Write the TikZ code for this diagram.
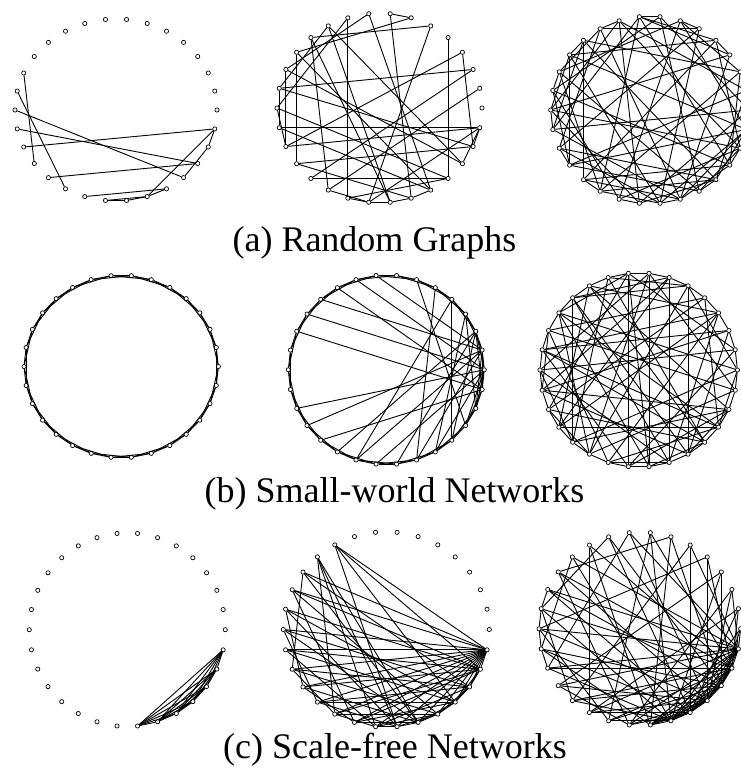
\documentclass[tikz,border=0pt]{standalone}
\usepackage{fontspec}
\setmainfont{Liberation Serif}
\usetikzlibrary{positioning}

\tikzset{
  vtx/.style={circle,draw,fill=white,inner sep=0pt,minimum size=4.2pt,line width=0.7pt},
  link/.style={line width=0.9pt},
  lbl/.style={font=\fontsize{36}{40}\selectfont,inner sep=0pt}
}

% 30 nodes on an ellipse: #1 prefix, #2,#3 centre, #4,#5 radii (pixels)
\newcommand{\ringnodes}[5]{%
  \foreach \k in {0,...,29}
    \node[vtx] (#1-\k) at ({#2+#4*cos(12*\k)},{#3-#5*sin(12*\k)}) {};
}

\begin{document}
\begin{tikzpicture}[x=1pt,y=-1pt]
  \useasboundingbox (0,0) rectangle (741,777);
  \clip (0,0) rectangle (741,777);

  % (a) random graphs
  \ringnodes{rg1}{116}{110}{101}{91}
  \foreach \a/\b in {13/18,14/20,15/26,16/27,17/29,19/27,21/25,22/23,22/24,
    23/24,24/25,24/29,28/29,26/28}
    \draw[link] (rg1-\a) -- (rg1-\b);

  \ringnodes{rg2}{379.5}{108}{102.5}{94.8}
  \foreach \a/\b in {6/7,3/28,4/26,9/21,16/29,17/29,5/11,12/18,19/26,10/27,
    2/19,1/20,22/29,8/13,8/25,7/24,11/23,12/25,13/27,14/28,15/26,13/17,14/16,
    15/17,20/22,21/22,22/23,23/24,24/25,18/24,10/23,9/15,5/22,11/20,28/29,
    27/29,16/25,18/28,2/14,21/26,6/12,10/14,3/17}
    \draw[link] (rg2-\a) -- (rg2-\b);

  \ringnodes{rg3}{649.7}{110}{99}{93.8}
  \foreach \a/\b in {0/7,0/16,0/22,1/9,1/18,1/26,2/11,2/20,2/27,3/8,3/15,3/24,
    4/12,4/19,4/28,5/10,5/17,5/23,6/13,6/21,6/29,7/14,7/25,8/16,8/20,8/27,
    9/15,9/22,9/28,10/17,10/24,11/16,11/19,11/26,12/18,12/23,12/29,13/20,
    13/25,14/21,14/27,15/22,15/28,16/24,17/23,17/26,18/25,18/29,19/24,19/27,
    20/26,21/28,22/26,23/29,24/27,25/28,26/29,0/1,1/2,3/4,5/6,7/8,9/10,11/12,
    13/14,15/16,17/18,19/20,21/22,23/24,25/26,27/28,28/29,0/29,10/13,14/18,
    20/23,24/29,4/8,2/6,12/15}
    \draw[link] (rg3-\a) -- (rg3-\b);

  \node[lbl,anchor=base] (capa) at (374.5,251.5) {(a) Random Graphs};

  % (b) small-world networks
  \ringnodes{sw1}{121.2}{366.5}{97.2}{91.3}
  \foreach \a [evaluate=\a as \b using {int(mod(\a+1,30))},
               evaluate=\a as \c using {int(mod(\a+2,30))}] in {0,...,29} {
    \draw[link] (sw1-\a) -- (sw1-\b);
    \draw[link] (sw1-\a) -- (sw1-\c);
  }

  \ringnodes{sw2}{386.3}{369.8}{98}{94.8}
  \foreach \a [evaluate=\a as \b using {int(mod(\a+1,30))},
               evaluate=\a as \c using {int(mod(\a+2,30))}] in {0,...,29} {
    \draw[link] (sw2-\a) -- (sw2-\b);
    \draw[link] (sw2-\a) -- (sw2-\c);
  }
  \foreach \a/\b in {8/1,9/0,10/29,11/1,12/0,13/29,17/0,18/1,19/29,20/2,21/1,
    22/0,23/2,24/1,25/0,26/2,5/24,4/26,4/21,3/28,3/25,2/29,1/28,6/27,0/27}
    \draw[link] (sw2-\a) -- (sw2-\b);

  \ringnodes{sw3}{638.7}{370}{98.7}{97.2}
  \foreach \a [evaluate=\a as \b using {int(mod(\a+1,30))}] in {0,...,29}
    \draw[link] (sw3-\a) -- (sw3-\b);
  \foreach \a/\b in {0/12,0/19,1/8,1/22,2/14,2/25,3/10,3/18,4/13,4/27,5/11,
    5/20,6/16,6/24,7/15,7/23,8/17,8/23,9/5,9/19,9/26,10/18,10/28,11/19,11/24,
    12/20,12/27,13/21,13/29,14/22,14/26,15/24,15/1,16/25,16/2,17/26,17/4,
    18/27,18/6,19/28,20/29,20/7,21/3,21/27,22/8,22/28,23/12,24/3,25/11,25/5,
    26/10,27/14,28/16,29/7,0/5,3/14,6/11,8/12,13/16,15/19,17/20,21/24,23/26,
    25/28,27/0}
    \draw[link] (sw3-\a) -- (sw3-\b);

  \node[lbl,anchor=base] (capb) at (394.5,502) {(b) Small-world Networks};

  % (c) scale-free networks
  \ringnodes{sf1}{127.3}{629.7}{98}{96.8}
  \foreach \a/\b in {23/24,23/25,23/26,23/27,23/28,23/29,24/25,24/26,24/27,
    24/28,24/29,25/26,25/27,25/28,25/29,26/27,26/28,26/29,27/28,27/29,28/29}
    \draw[link] (sf1-\a) -- (sf1-\b);

  \ringnodes{sf2}{386.3}{629.5}{103}{97.7}
  \foreach \a/\b in {22/23,22/25,22/27,22/29,21/24,21/26,21/28,21/29,20/22,
    20/25,20/28,20/29,19/23,19/26,19/27,19/29,18/21,18/24,18/28,18/29,17/20,
    17/25,17/27,17/29,16/22,16/26,16/28,16/29,15/19,15/24,15/27,15/29,14/18,
    14/23,14/26,14/28,13/21,13/25,13/28,13/29,12/17,12/24,12/27,12/29,11/20,
    11/22,11/23,11/24,10/23,10/26,10/28,10/29,23/24,24/25,25/26,26/27,27/28,
    28/29,23/25,24/26,25/27,26/28,27/29,23/29,24/29,25/29,26/29}
    \draw[link] (sf2-\a) -- (sf2-\b);

  \ringnodes{sf3}{639.8}{628.8}{100.8}{96.7}
  \foreach \a/\b in {0/29,0/27,0/24,1/28,1/25,1/20,2/29,2/26,2/22,3/27,3/24,
    3/18,4/28,4/26,4/15,5/29,5/25,5/19,6/27,6/23,6/12,7/28,7/24,7/21,8/29,
    8/26,8/17,9/27,9/25,9/14,10/28,10/23,10/20,11/29,11/24,11/16,12/26,12/22,
    12/28,13/27,13/25,13/29,14/28,14/24,14/19,15/29,15/26,15/21,16/27,16/23,
    16/25,17/28,17/24,17/29,18/26,18/22,18/29,19/27,19/24,19/28,20/29,20/25,
    20/26,21/28,21/24,21/27,22/29,22/26,22/25,23/24,23/25,23/26,23/27,23/28,
    23/29,24/25,24/26,24/27,24/28,24/29,25/26,25/27,25/28,25/29,26/27,26/28,
    26/29,27/28,27/29,28/29,13/14,14/15,15/16,16/17}
    \draw[link] (sf3-\a) -- (sf3-\b);

  \node[lbl,anchor=base] (capc) at (395,758) {(c) Scale-free Networks};
\end{tikzpicture}
\end{document}
